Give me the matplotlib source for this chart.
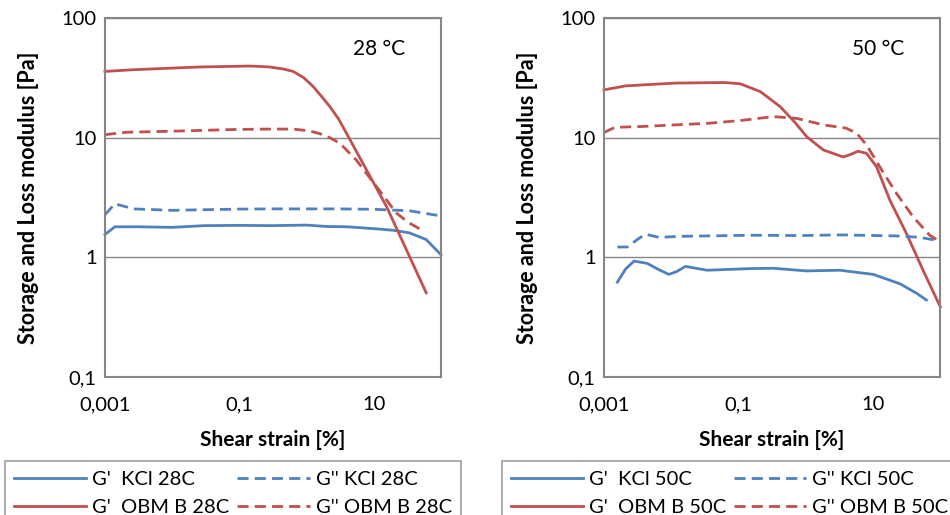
import matplotlib.pyplot as plt
from matplotlib.ticker import FixedLocator, NullLocator

plt.rcParams['font.family'] = ['Lato', 'DejaVu Sans']

# strain sweep at 28 C
kcl28_gp_x = [0.001, 0.0014, 0.003, 0.01, 0.03, 0.1, 0.3, 1, 2, 4, 10.9, 20, 34, 60, 100]
kcl28_gp_y = [1.55, 1.8, 1.8, 1.78, 1.84, 1.85, 1.84, 1.86, 1.81, 1.8, 1.73, 1.68, 1.6, 1.41, 1.05]
kcl28_gpp_x = [0.001, 0.0014, 0.0027, 0.01, 0.03, 0.1, 0.3, 1, 3, 10, 34, 81, 100]
kcl28_gpp_y = [2.27, 2.8, 2.54, 2.47, 2.5, 2.53, 2.54, 2.54, 2.54, 2.52, 2.45, 2.26, 2.23]
obm28_gp_x = [0.001, 0.0027, 0.026, 0.145, 0.28, 0.45, 0.63, 0.9, 1.25, 1.65, 2.22, 3.0, 4.14, 7.76, 15.4, 30.5, 60.3]
obm28_gp_y = [35.8, 37.0, 39.0, 39.7, 39.0, 37.5, 35.8, 31.8, 26.8, 22.3, 18.2, 14.3, 10.3, 5.4, 2.67, 1.16, 0.505]
obm28_gpp_x = [0.001, 0.0021, 0.0084, 0.082, 0.255, 0.63, 1.1, 1.57, 2.2, 3.12, 5.5, 10.9, 21.6, 33, 50.8]
obm28_gpp_y = [10.6, 11.1, 11.3, 11.7, 11.8, 11.8, 11.4, 10.8, 10.0, 9.0, 6.5, 3.92, 2.35, 1.95, 1.7]

# strain sweep at 50 C
kcl50_gp_x = [0.00158, 0.0021, 0.0028, 0.0044, 0.0065, 0.0092, 0.012, 0.0163, 0.034, 0.149, 0.33, 1.03, 3.2, 10.1, 25.3, 44.6, 62]
kcl50_gp_y = [0.62, 0.8, 0.93, 0.89, 0.79, 0.72, 0.76, 0.84, 0.78, 0.805, 0.81, 0.77, 0.78, 0.72, 0.6, 0.5, 0.44]
kcl50_gpp_x = [0.00158, 0.00222, 0.0033, 0.00415, 0.0065, 0.0153, 0.167, 0.82, 3.2, 22.3, 49, 100]
kcl50_gpp_y = [1.22, 1.22, 1.44, 1.56, 1.47, 1.5, 1.53, 1.52, 1.54, 1.51, 1.47, 1.37]
obm50_gp_x = [0.001, 0.0021, 0.0115, 0.063, 0.106, 0.21, 0.415, 0.7, 1.03, 1.82, 3.6, 4.5, 6.0, 8.0, 11.3, 17.8, 31.4, 55.4, 100]
obm50_gp_y = [25.1, 27.1, 28.6, 28.9, 28.2, 24.3, 18.2, 13.3, 10.2, 7.9, 6.9, 7.2, 7.7, 7.4, 5.7, 3.0, 1.58, 0.78, 0.385]
obm50_gpp_x = [0.001, 0.00145, 0.0037, 0.036, 0.106, 0.33, 0.73, 1.82, 4.0, 5.7, 8.0, 12.6, 22.3, 39.4, 69.5, 100]
obm50_gpp_y = [11.05, 12.2, 12.4, 13.2, 13.9, 15.0, 14.5, 12.8, 12.0, 10.9, 8.7, 5.7, 3.42, 2.18, 1.53, 1.35]

blue = '#4F81BD'
red = '#C0504D'
grey = '#868686'


def style_axes(ax, label):
    ax.set_xscale('log')
    ax.set_yscale('log')
    ax.set_xlim(0.001, 100)
    ax.set_ylim(0.1, 100)
    ax.xaxis.set_major_locator(FixedLocator([0.001, 0.1, 10]))
    ax.xaxis.set_minor_locator(NullLocator())
    ax.set_xticklabels(['0,001', '0,1', '10'])
    ax.yaxis.set_major_locator(FixedLocator([0.1, 1, 10, 100]))
    ax.yaxis.set_minor_locator(NullLocator())
    ax.set_yticklabels(['0,1', '1', '10', '100'])
    ax.tick_params(length=0, labelsize=14.5, pad=6)
    ax.tick_params(axis='x', pad=14)
    for s in ax.spines.values():
        s.set_color(grey)
        s.set_linewidth(1.5)
    ax.grid(axis='y', color=grey, linewidth=1.0)
    ax.set_axisbelow(True)
    ax.set_xlabel('Shear strain [%]', fontsize=15, fontweight='bold', labelpad=12)
    ax.set_ylabel('Storage and Loss modulus [Pa]', fontsize=15.5, fontweight='bold', labelpad=16)
    ax.text(0.815, 0.915, label, transform=ax.transAxes, fontsize=15, ha='center', va='center')


fig = plt.figure(figsize=(9.5, 5.15), dpi=100)
ax1 = fig.add_axes([0.1105, 0.268, 0.3537, 0.697])
ax2 = fig.add_axes([0.6358, 0.268, 0.354, 0.697])

dash = (4, 2.2)
lw = 2.0

panels = [
    (ax1, '28 °C', '28C', (kcl28_gp_x, kcl28_gp_y), (kcl28_gpp_x, kcl28_gpp_y),
     (obm28_gp_x, obm28_gp_y), (obm28_gpp_x, obm28_gpp_y), 0.005),
    (ax2, '50 °C', '50C', (kcl50_gp_x, kcl50_gp_y), (kcl50_gpp_x, kcl50_gpp_y),
     (obm50_gp_x, obm50_gp_y), (obm50_gpp_x, obm50_gpp_y), 0.528),
]

for ax, title, tag, kgp, kgpp, ogp, ogpp, lx in panels:
    h1, = ax.plot(*kgp, color=blue, lw=lw, label="G'  KCl " + tag)
    h2, = ax.plot(*ogp, color=red, lw=lw, label="G'  OBM B " + tag)
    h3, = ax.plot(*kgpp, color=blue, lw=lw, dashes=dash, label="G'' KCl " + tag)
    h4, = ax.plot(*ogpp, color=red, lw=lw, dashes=dash, label="G'' OBM B " + tag)
    for line in ax.lines:
        line.set_clip_on(False)
        line.set_solid_joinstyle('round')
        line.set_dash_joinstyle('round')
    style_axes(ax, title)
    leg = fig.legend(handles=[h1, h2, h3, h4], ncol=2, loc='upper left',
                     bbox_to_anchor=(lx, -0.5, 0.48, 0.5 + 0.104), mode='expand',
                     fontsize=14.5, frameon=True, fancybox=False, borderaxespad=0,
                     handlelength=3.6, handletextpad=0.3, columnspacing=2.0,
                     labelspacing=0.55, borderpad=0.45)
    leg.get_frame().set_edgecolor(grey)
    leg.get_frame().set_linewidth(1.2)

fig.savefig('out.png', dpi=100)
